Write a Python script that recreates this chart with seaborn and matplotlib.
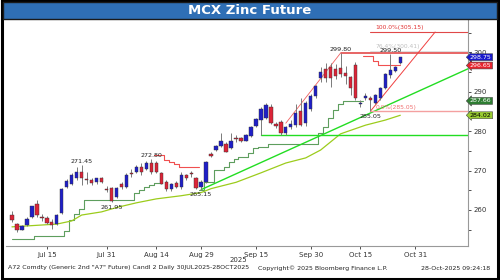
import numpy as np
import pandas as pd
import matplotlib
matplotlib.use("Agg")
import matplotlib.pyplot as plt
import seaborn as sns
from matplotlib.patches import Rectangle

# ---------------- data ----------------
holidays = ["2025-08-15", "2025-08-27", "2025-10-02", "2025-10-21"]
all_days = [d for d in pd.bdate_range("2025-07-04", "2025-11-21") if d.strftime("%Y-%m-%d") not in holidays]
n_candles = 79
dates = all_days[:n_candles]

opens = [258.8, 256.4, 255.0, 256.2, 258.1, 261.5, 258.2, 257.9, 257.0, 256.5,
         259.2, 265.7, 266.6, 268.0, 269.5, 267.9, 267.7, 267.0, 268.0, 265.4,
         265.5, 263.4, 266.7, 265.9, 269.4, 269.5, 271.0, 270.5, 272.0, 271.9,
         269.3, 267.2, 265.2, 266.9, 265.9, 268.9, 269.4, 268.0, 265.9, 267.2,
         274.1, 275.2, 276.2, 276.6, 275.6, 278.2, 278.3, 277.6, 278.7, 281.3,
         282.8, 283.3, 286.0, 281.7, 282.3, 279.4, 281.1, 281.5, 285.2, 282.0,
         285.5, 289.0, 293.4, 295.7, 296.3, 295.7, 295.9, 294.8, 293.8, 296.9,
         286.8, 288.5, 288.4, 287.2, 288.4, 291.0, 294.2, 295.3, 297.3]
highs = [259.6, 256.7, 256.2, 258.1, 261.0, 262.4, 259.0, 258.5, 257.7, 259.0,
         265.5, 267.8, 269.4, 270.8, 271.45, 269.7, 268.0, 268.2, 268.3, 266.0,
         265.8, 265.9, 267.0, 269.3, 270.5, 271.4, 271.8, 272.3, 272.8, 272.3,
         269.6, 267.5, 266.9, 267.3, 269.7, 269.2, 270.0, 268.4, 267.5, 272.5,
         274.6, 276.5, 279.6, 277.2, 279.6, 279.0, 278.6, 279.3, 281.3, 283.3,
         286.0, 287.2, 286.8, 282.4, 282.8, 281.4, 282.7, 287.0, 288.3, 287.7,
         289.5, 291.8, 296.3, 297.3, 297.2, 297.0, 299.8, 296.5, 294.0, 297.5,
         288.0, 289.6, 289.0, 289.5, 291.2, 294.8, 299.5, 296.6, 298.9]
lows = [257.0, 254.5, 254.8, 256.0, 257.9, 258.1, 257.3, 256.5, 255.2, 256.2,
        258.9, 265.5, 266.3, 267.7, 266.2, 266.6, 266.3, 266.7, 266.8, 264.5,
        261.95, 262.9, 265.4, 265.6, 268.4, 269.3, 268.8, 270.1, 269.2, 269.4,
        266.5, 264.9, 264.9, 265.6, 265.4, 267.7, 268.3, 265.2, 265.15, 266.9,
        273.4, 274.9, 276.0, 274.6, 275.4, 277.3, 277.2, 277.4, 278.5, 281.0,
        279.0, 283.0, 281.8, 280.7, 279.0, 278.9, 280.6, 281.0, 281.2, 281.3,
        285.0, 288.5, 292.5, 292.5, 291.3, 293.2, 293.8, 292.0, 289.2, 287.8,
        286.2, 287.8, 285.05, 286.8, 288.0, 290.6, 293.6, 295.0, 297.0]
closes = [257.4, 254.8, 256.0, 257.7, 260.9, 258.6, 258.0, 256.7, 256.2, 258.7,
          265.3, 267.4, 268.9, 269.7, 268.0, 267.5, 266.8, 268.0, 267.2, 265.1,
          262.3, 265.5, 265.7, 268.9, 269.2, 271.0, 269.5, 272.0, 269.5, 269.6,
          266.7, 265.2, 266.6, 265.9, 268.9, 268.0, 269.1, 265.5, 267.2, 272.2,
          273.8, 276.2, 277.5, 274.8, 277.5, 277.9, 277.5, 279.0, 281.0, 283.0,
          285.5, 286.6, 282.1, 281.3, 279.4, 281.1, 281.9, 284.7, 281.5, 287.2,
          289.0, 291.5, 295.1, 293.4, 293.6, 294.0, 294.5, 294.0, 290.9, 288.5,
          287.2, 288.9, 288.0, 289.2, 290.9, 294.4, 295.4, 296.2, 298.75]

nan = np.nan
stop_green = ([252.7] * 5 + [253.4] * 6 + [254.7, 257.5, 259.0, 260.3] + [262.4] * 10 +
              [264.2, 265.05, 265.9, 266.3, 266.9] + [nan] * 8 + [265.15] +
              [267.1] * 2 + [270.1] * 2 + [270.9, 272.2, 272.9] + [273.4] * 2 + [274.4, 275.7] +
              [276.0] * 2 + [276.7] * 10 + [279.5, 281.0, 283.3, 285.3, 286.8] + [287.66] * 4 +
              [nan] * 8)
stop_red = ([nan] * 29 + [273.9, 273.9, 272.7, 272.2, 271.6, 270.8, 270.8, 270.8, 270.8] +
            [nan] * 33 + [299.0] * 2 + [297.8] + [296.65] * 5)

ma_dates = ["2025-07-04", "2025-07-17", "2025-07-22", "2025-07-24", "2025-07-30", "2025-08-04",
            "2025-08-08", "2025-08-14", "2025-08-22", "2025-08-29", "2025-09-02", "2025-09-09",
            "2025-09-16", "2025-09-23", "2025-09-29", "2025-10-03", "2025-10-09", "2025-10-16",
            "2025-10-23", "2025-10-28"]
ma_values = [255.7, 256.4, 257.2, 258.7, 259.5, 260.6, 261.8, 262.8, 263.6, 264.4, 265.4,
             267.0, 269.4, 271.9, 273.2, 275.2, 279.3, 281.5, 282.8, 284.02]

trend_dates = ["2025-08-29", "2025-10-17"]
trend_values = [265.15, 284.6]
support_date, support_value = "2025-09-16", 279.0
resist_date, resist_value = "2025-10-09", 299.80
fan_dates = ["2025-09-23", "2025-10-09"]
fan_values = [282.0, 299.8]
fib_dates = ["2025-10-17", "2025-11-06"]
fib_values = [285.05, 305.15]
fib_mid = 300.41

point_labels = [("2025-07-24", 271.45, "top"), ("2025-08-01", 261.95, "bottom"),
                ("2025-08-13", 272.80, "top"), ("2025-08-29", 265.15, "bottom"),
                ("2025-10-09", 299.80, "top"), ("2025-10-17", 285.05, "bottom"),
                ("2025-10-24", 299.50, "top")]
last_boxes = [(298.75, "#1a1acc", "white"), (296.65, "#e8242e", "white"),
              (287.66, "#2e7d32", "white"), (284.02, "#9acd32", "black")]
tick_dates = ["2025-07-15", "2025-07-31", "2025-08-14", "2025-08-29", "2025-09-15",
              "2025-09-30", "2025-10-15", "2025-10-31"]
tick_labels = ["Jul 15", "Jul 31", "Aug 14", "Aug 29", "Sep 15", "Sep 30", "Oct 15", "Oct 31"]

# ---------------- helpers ----------------
pos = {d.strftime("%Y-%m-%d"): i for i, d in enumerate(all_days)}
X = lambda d: pos[d]

sns.set_theme(style="white")
plt.rcParams["font.family"] = ["DejaVu Sans"]

fig = plt.figure(figsize=(5, 2.8), dpi=100)
fig.patch.set_facecolor("white")

# title band and frame
fig.add_artist(Rectangle((0.004, 0.004), 0.992, 0.992, transform=fig.transFigure,
                         fill=False, edgecolor="black", linewidth=2.2))
fig.add_artist(Rectangle((0.006, 1 - 19 / 280), 0.988, 17 / 280, transform=fig.transFigure,
                         facecolor="#2f6fb5", edgecolor="#1a1a1a", linewidth=1.0))
fig.text(0.5, 1 - 10 / 280, "MCX Zinc Future", color="white", fontsize=9.5,
         fontweight="bold", ha="center", va="center")

ax = fig.add_axes([6 / 500, 34 / 280, 462 / 500, 227 / 280])
ax.set_facecolor("white")

x = np.arange(n_candles)
o = np.array(opens); h = np.array(highs); l = np.array(lows); c = np.array(closes)
up = c >= o
ax.vlines(x, l, h, color="#7a7a7a", linewidth=0.7, zorder=3)
body_bottom = np.minimum(o, c)
body_h = np.maximum(np.abs(c - o), 0.25)
cols = np.where(up, "#1f1fc8", "#dc2438")
ax.bar(x, body_h, bottom=body_bottom, width=0.68, color=cols, edgecolor="#333333",
       linewidth=0.3, zorder=4)

# trailing stop steps (ax.plot keeps the gaps)
ax.plot(x, stop_green, color="#5e9e5e", linewidth=0.8, drawstyle="steps-mid", zorder=2)
ax.plot(x, stop_red, color="#f05050", linewidth=0.8, drawstyle="steps-mid", zorder=2)
# moving average
sns.lineplot(x=[X(d) for d in ma_dates], y=ma_values, ax=ax, color="#9ccc1c",
             linewidth=0.9, zorder=2)

xmax = 91.6
# trend line
tx0, tx1 = X(trend_dates[0]), X(trend_dates[1])
slope = (trend_values[1] - trend_values[0]) / (tx1 - tx0)
ax.plot([tx0, xmax], [trend_values[0], trend_values[0] + slope * (xmax - tx0)],
        color="#22dd22", linewidth=1.0, zorder=2)
ax.plot([X(support_date), xmax], [support_value, support_value], color="#22dd22",
        linewidth=1.0, zorder=2)
# resistance
ax.plot([X(resist_date), xmax], [resist_value, resist_value], color="#e03a3a",
        linewidth=1.1, zorder=2)
ax.plot([X(fan_dates[0]), X(fan_dates[1])], fan_values, color="#f06060", linewidth=0.6,
        zorder=2)
# fibonacci
fx0, fx1 = X(fib_dates[0]), X(fib_dates[1])
ax.plot([fx0, fx1], fib_values, color="#f04040", linewidth=0.7, zorder=2)
ax.plot([fx0, xmax], [fib_values[1]] * 2, color="#e04848", linewidth=0.8, zorder=2)
ax.plot([fx0, xmax], [fib_values[0]] * 2, color="#f4a0a0", linewidth=1.0, zorder=2)
ax.plot([fx0, xmax], [fib_mid] * 2, color="#d8d8d8", linewidth=0.6, zorder=1)
ax.text(fx0 + 1, fib_values[1] + 0.4, f"100.0%({fib_values[1]:.2f})", color="#e03030",
        fontsize=4.3, va="bottom", ha="left")
ax.text(fx0 + 1, fib_values[0] + 0.3, f"0.0%({fib_values[0]:.2f})", color="#f07070",
        fontsize=4.3, va="bottom", ha="left")
ax.text(fx0 + 1, fib_mid + 0.3, f"76.4%({fib_mid:.2f})", color="#c0c0c0",
        fontsize=4.3, va="bottom", ha="left")

for d, v, where in point_labels:
    if where == "top":
        ax.text(X(d), v + 0.3, f"{v:.2f}", fontsize=4.6, ha="center", va="bottom", color="#222222")
    else:
        ax.text(X(d), v - 0.6, f"{v:.2f}", fontsize=4.6, ha="center", va="top", color="#222222")

for v, fc, tc in last_boxes:
    ax.text(xmax + 0.4, v, f"{v:.2f}", fontsize=4.5, color=tc, ha="left", va="center",
            bbox=dict(boxstyle="larrow,pad=0.15", facecolor=fc, edgecolor="#444444",
                      linewidth=0.4), zorder=6, clip_on=False)

ax.set_xlim(-1.2, xmax)
ax.set_ylim(250.84, 308.45)
ax.yaxis.tick_right()
ax.set_yticks([260, 270, 280, 290, 300])
ax.set_yticks(np.arange(255, 306, 5), minor=True)
ax.set_xticks([X(d) for d in tick_dates])
ax.set_xticklabels(tick_labels)
ax.tick_params(axis="both", which="both", labelsize=5, colors="#333333", length=2.5,
               width=0.6, direction="out", pad=1.5)
ax.tick_params(axis="both", which="minor", length=2)
ax.tick_params(axis="y", which="both", right=True, left=False)
ax.tick_params(axis="x", which="both", bottom=True)
for s in ["top", "left"]:
    ax.spines[s].set_visible(False)
for s in ["bottom", "right"]:
    ax.spines[s].set_color("#999999")
    ax.spines[s].set_linewidth(0.8)
ax.set_xlabel("")
ax.set_ylabel("")

fig.text(238 / 500, 1 - 260 / 280, "2025", fontsize=5, ha="center", va="center", color="#333333")
fig.text(8 / 500, 1 - 268 / 280, 'A72 Comdty (Generic 2nd "A7" Future) Candl 2 Daily 30JUL2025-28OCT2025',
         fontsize=4.5, ha="left", va="center", color="#222222")
fig.text(323 / 500, 1 - 268 / 280, "Copyright\u00a9 2025 Bloomberg Finance L.P.",
         fontsize=4.5, ha="center", va="center", color="#222222")
fig.text(490 / 500, 1 - 268 / 280, "28-Oct-2025 09:24:18", fontsize=4.5, ha="right",
         va="center", color="#222222")

fig.savefig("out.png", dpi=100)
